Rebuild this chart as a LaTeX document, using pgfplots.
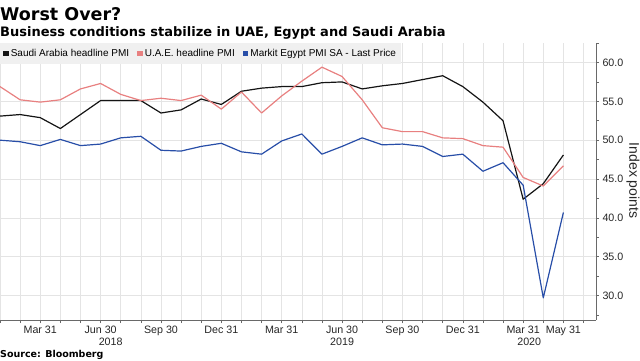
\documentclass[border=0pt]{standalone}
\usepackage{pgfplots}
\pgfplotsset{compat=1.18}
\usepackage{fontspec}
\setmainfont{Liberation Sans}
\newfontfamily\titlefont{DejaVu Sans}
\definecolor{saudi}{RGB}{20,20,20}
\definecolor{uae}{RGB}{232,128,128}
\definecolor{egypt}{RGB}{40,78,168}
\definecolor{gridc}{RGB}{228,228,228}
\definecolor{axisc}{RGB}{105,105,105}
\definecolor{legbg}{RGB}{240,240,240}
\begin{document}
\begin{tikzpicture}[x=1pt,y=1pt]
\useasboundingbox (0,0) rectangle (640,360);
\node[anchor=base west,inner sep=0pt,font=\titlefont\bfseries\fontsize{17.5}{20}\selectfont] at (0,340) {Worst Over?};
\node[anchor=base west,inner sep=0pt,font=\titlefont\bfseries\fontsize{13}{15}\selectfont] at (0,324) {Business conditions stabilize in UAE, Egypt and Saudi Arabia};
\node[anchor=base west,inner sep=0pt,font=\titlefont\bfseries\fontsize{9.5}{11}\selectfont] at (0,3) {Source: Bloomberg};
\begin{axis}[
  at={(0pt,40pt)}, anchor=south west,
  scale only axis, width=596pt, height=277pt,
  xmin=0, xmax=29.62, ymin=26.85, ymax=62.51,
  axis x line*=bottom, axis y line*=right,
  axis line style={axisc, line width=0.9pt},
  clip=false,
  xtick={2,5,8,11,14,17,20,23,26,28},
  xticklabels={Mar 31,Jun 30,Sep 30,Dec 31,Mar 31,Jun 30,Sep 30,Dec 31,Mar 31,May 31},
  minor xtick={0,1,...,29},
  ytick={30,35,...,60},
  minor ytick={27.5,32.5,...,62.5},
  tick align=outside,
  major tick length=3pt, minor tick length=3pt,
  tick style={axisc, line width=0.6pt},
  xmajorgrids, xminorgrids, ymajorgrids,
  grid style={gridc, line width=0.6pt},
  minor grid style={gridc, line width=0.6pt},
  yticklabel pos=right,
  /pgf/number format/.cd, fixed, fixed zerofill, precision=1, assume math mode=true,
  /pgfplots/.cd,
  ticklabel style={font=\fontsize{10.7}{12}\selectfont, text=black!85},
  xticklabel style={yshift=1pt},
  legend style={at={(0,1)}, anchor=north west, fill=legbg, draw=none,
    font=\fontsize{10}{12}\selectfont, inner xsep=3pt, inner ysep=4pt,
    /tikz/every even column/.append style={column sep=6pt}},
  legend columns=3,
  legend image code/.code={\fill[#1,draw=none] (0pt,-2.8pt) rectangle (5.6pt,2.8pt);},
  every axis plot/.append style={line width=1.2pt, line join=round},
]
\addplot[saudi, mark=none] coordinates {
(0,53.1)(1,53.3)(2,52.9)(3,51.5)(4,53.3)(5,55.1)(6,55.1)(7,55.1)(8,53.5)(9,53.9)
(10,55.3)(11,54.6)(12,56.3)(13,56.7)(14,56.9)(15,56.9)(16,57.4)(17,57.5)(18,56.6)(19,57.0)
(20,57.3)(21,57.8)(22,58.3)(23,56.9)(24,54.9)(25,52.5)(26,42.4)(27,44.4)(28,48.1)};
\addlegendentry{Saudi Arabia headline PMI}
\addplot[uae, mark=none] coordinates {
(0,56.9)(1,55.2)(2,54.9)(3,55.2)(4,56.6)(5,57.3)(6,55.9)(7,55.1)(8,55.4)(9,55.1)
(10,55.8)(11,54.0)(12,56.2)(13,53.5)(14,55.7)(15,57.6)(16,59.4)(17,58.2)(18,55.2)(19,51.6)
(20,51.1)(21,51.1)(22,50.3)(23,50.2)(24,49.3)(25,49.1)(26,45.2)(27,44.1)(28,46.7)};
\addlegendentry{U.A.E. headline PMI}
\addplot[egypt, mark=none] coordinates {
(0,50.0)(1,49.8)(2,49.3)(3,50.1)(4,49.3)(5,49.5)(6,50.3)(7,50.5)(8,48.7)(9,48.6)
(10,49.2)(11,49.6)(12,48.5)(13,48.2)(14,49.9)(15,50.8)(16,48.2)(17,49.2)(18,50.3)(19,49.4)
(20,49.5)(21,49.2)(22,47.9)(23,48.2)(24,46.0)(25,47.1)(26,44.2)(27,29.7)(28,40.7)};
\addlegendentry{Markit Egypt PMI SA - Last Price}
\node[anchor=base, font=\fontsize{10.7}{12}\selectfont, text=black!85] at (axis cs:5.5,26.85) [yshift=-25pt] {2018};
\node[anchor=base, font=\fontsize{10.7}{12}\selectfont, text=black!85] at (axis cs:17,26.85) [yshift=-25pt] {2019};
\node[anchor=base, font=\fontsize{10.7}{12}\selectfont, text=black!85] at (axis cs:26.3,26.85) [yshift=-25pt] {2020};
\draw[axisc!70, line width=0.6pt] (axis cs:11,26.85) ++(0,-7pt) -- ++(0,-21pt);
\draw[axisc!70, line width=0.6pt] (axis cs:23,26.85) ++(0,-7pt) -- ++(0,-21pt);
\node[rotate=-90, font=\fontsize{14}{16}\selectfont, text=black!85] at (axis cs:31.46,44.8) {Index points};
\end{axis}
\end{tikzpicture}
\end{document}
